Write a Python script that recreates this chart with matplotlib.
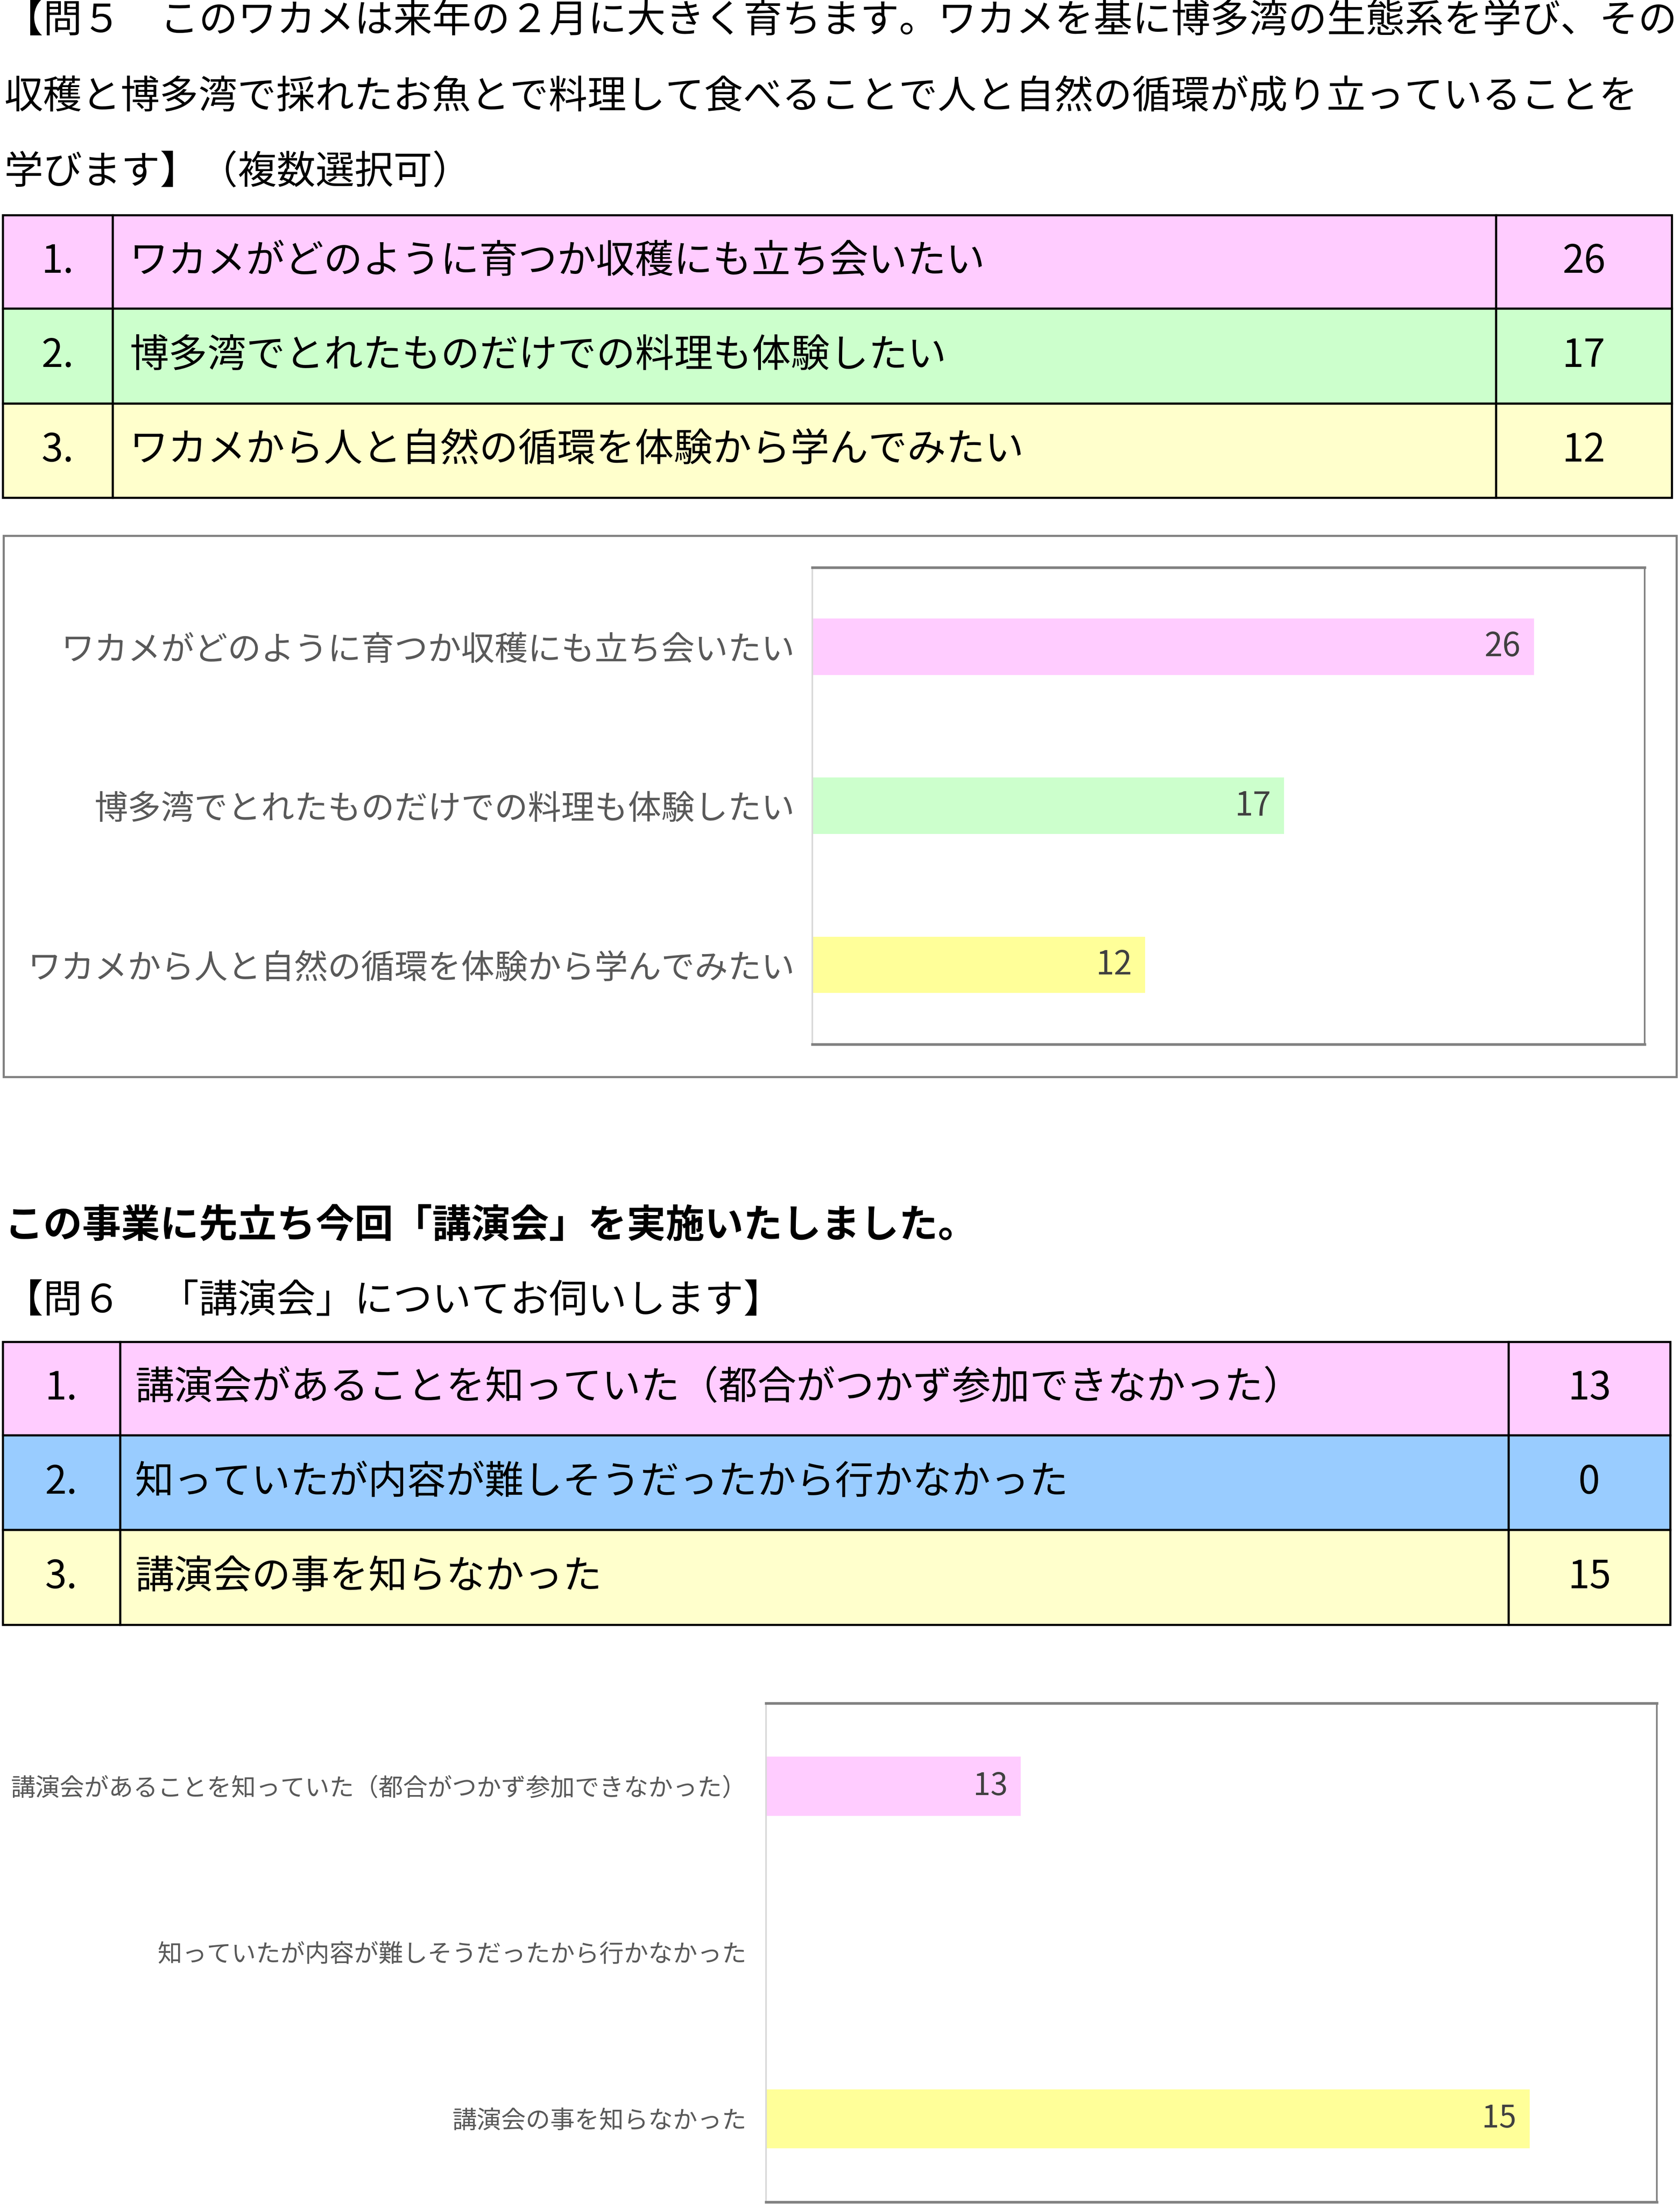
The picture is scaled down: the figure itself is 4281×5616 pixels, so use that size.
# ---------------------------------------------------------------------------------------------- #
# Survey page: question 5 and question 6 tables with their bar charts.
# ---------------------------------------------------------------------------------------------- #
import matplotlib.pyplot as plt
from matplotlib.patches import Rectangle

plt.rcParams['font.family'] = ['Noto Sans CJK JP', 'DejaVu Sans']

# ---------------------------------------------------------------------------------------------- #
# We define the data.
# ---------------------------------------------------------------------------------------------- #
Q5_Title = [
    '【問５　このワカメは来年の２月に大きく育ちます。ワカメを基に博多湾の生態系を学び、その',
    '収穫と博多湾で採れたお魚とで料理して食べることで人と自然の循環が成り立っていることを',
    '学びます】（複数選択可）',
]
Q5_Numbers = ['1.', '2.', '3.']
Q5_Labels = [
    'ワカメがどのように育つか収穫にも立ち会いたい',
    '博多湾でとれたものだけでの料理も体験したい',
    'ワカメから人と自然の循環を体験から学んでみたい',
]
Q5_Counts = [26, 17, 12]
Q5_RowColors = ['#FFCCFF', '#CCFFCC', '#FFFFCC']
Q5_BarColors = ['#FFCCFF', '#CCFFCC', '#FFFF99']
Q5_XMin, Q5_XMax = 0, 30

Heading = 'この事業に先立ち今回「講演会」を実施いたしました。'
Q6_Title = '【問６　「講演会」についてお伺いします】'
Q6_Numbers = ['1.', '2.', '3.']
Q6_Labels = [
    '講演会があることを知っていた（都合がつかず参加できなかった）',
    '知っていたが内容が難しそうだったから行かなかった',
    '講演会の事を知らなかった',
]
Q6_Counts = [13, 0, 15]
Q6_RowColors = ['#FFCCFF', '#99CCFF', '#FFFFCC']
Q6_BarColors = ['#FFCCFF', '#99CCFF', '#FFFF99']
Q6_XMin, Q6_XMax = 12, 15.5

# ---------------------------------------------------------------------------------------------- #
# We define page properties (page units are the reference at 1195 x 1568).
# ---------------------------------------------------------------------------------------------- #
PageW = 1195
PageH = 1568
TextSize = 23.8
TableLw = 1.3
GridGray = '#808080'
LabelGray = '#595959'
ValueGray = '#404040'

fig = plt.figure(figsize=(4281 / 300, 5616 / 300), dpi=300)
page = fig.add_axes([0, 0, 1, 1])
page.set_xlim(0, PageW)
page.set_ylim(PageH, 0)
page.axis('off')


def draw_table(rows, cols, numbers, labels, counts, colors, num_x, text_x):
    # rows: list of row edges, cols: list of column edges
    for i in range(len(labels)):
        y0, y1 = rows[i], rows[i + 1]
        for j in range(3):
            page.add_patch(Rectangle((cols[j], y0), cols[j + 1] - cols[j], y1 - y0,
                                     facecolor=colors[i], edgecolor='black', lw=TableLw))
        yc = (y0 + y1) / 2
        page.text(num_x, yc, numbers[i], fontsize=TextSize, ha='center', va='center')
        page.text(text_x, yc, labels[i], fontsize=TextSize, ha='left', va='center')
        page.text((cols[2] + cols[3]) / 2, yc, str(counts[i]), fontsize=TextSize,
                  ha='center', va='center')


def draw_chart(box, labels, counts, colors, xmin, xmax, label_size, label_pad, value_size):
    left, top, right, bottom = box
    ax = fig.add_axes([left / PageW, 1 - bottom / PageH, (right - left) / PageW,
                       (bottom - top) / PageH])
    pos = list(range(len(labels)))
    ax.barh(pos, counts, height=0.355, color=colors)
    ax.set_xlim(xmin, xmax)
    ax.set_ylim(2.5, -0.5)
    ax.set_xticks([])
    ax.set_yticks(pos, labels, fontsize=label_size, color=LabelGray)
    ax.tick_params(axis='y', length=0, pad=label_pad)
    for k, v in enumerate(counts):
        if v > xmin:
            ax.annotate(str(v), (v, k), xytext=(-8, 0), textcoords='offset points',
                        ha='right', va='center', fontsize=value_size, color=ValueGray)
    ax.spines['top'].set_color(GridGray)
    ax.spines['top'].set_linewidth(1.6)
    ax.spines['bottom'].set_color(GridGray)
    ax.spines['bottom'].set_linewidth(1.6)
    ax.spines['right'].set_color(GridGray)
    ax.spines['right'].set_linewidth(1.0)
    ax.spines['left'].set_color('#D9D9D9')
    ax.spines['left'].set_linewidth(1.0)
    return ax


# ---------------------------------------------------------------------------------------------- #
# We draw question 5.
# ---------------------------------------------------------------------------------------------- #
for y, line in zip([15, 69, 123], Q5_Title):
    page.text(3, y, line, fontsize=TextSize, ha='left', va='center')

draw_table([153, 219.5, 287, 354], [2, 80, 1064, 1189], Q5_Numbers, Q5_Labels,
           Q5_Counts, Q5_RowColors, 41, 92)

page.add_patch(Rectangle((2.5, 381), 1190, 385, facecolor='white', edgecolor=GridGray,
                         lw=1.3, zorder=0))
draw_chart((577.7, 403.6, 1170, 743), Q5_Labels, Q5_Counts, Q5_BarColors, Q5_XMin, Q5_XMax,
           20.4, 10.5, 20)

# ---------------------------------------------------------------------------------------------- #
# We draw question 6.
# ---------------------------------------------------------------------------------------------- #
page.text(3, 872, Heading, fontsize=TextSize, fontweight='bold', ha='left', va='center')
page.text(3, 926, Q6_Title, fontsize=TextSize, ha='left', va='center')

draw_table([954.5, 1021, 1088.4, 1155.8], [2, 85.3, 1073, 1188], Q6_Numbers, Q6_Labels,
           Q6_Counts, Q6_RowColors, 43.5, 96)

draw_chart((545, 1211.6, 1178.5, 1566.5), Q6_Labels, Q6_Counts, Q6_BarColors, Q6_XMin, Q6_XMax,
           15, 12, 19)

fig.savefig('out.png', dpi=300)
